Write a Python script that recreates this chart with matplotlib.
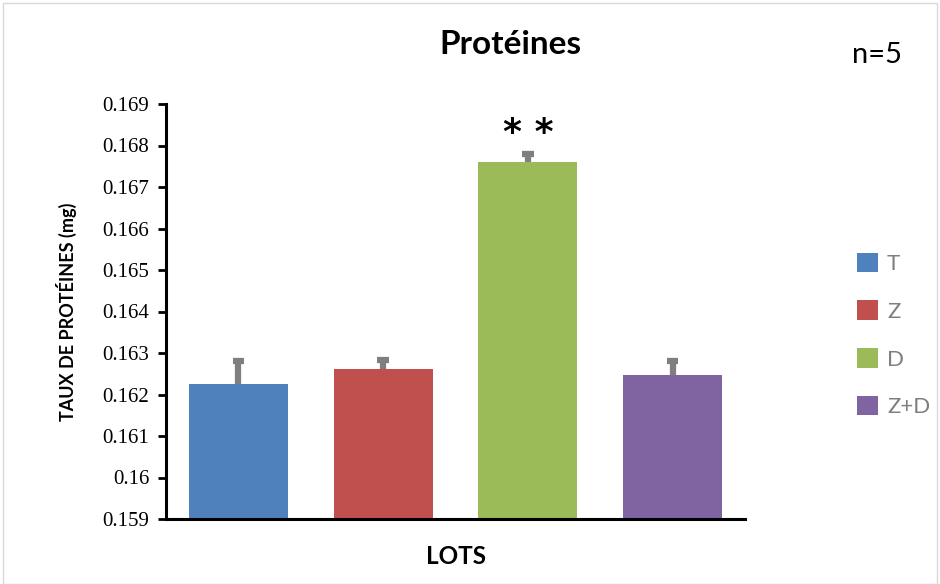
import matplotlib
matplotlib.use('Agg')
import matplotlib.pyplot as plt
from matplotlib.patches import Rectangle

# data
lots = ['T', 'Z', 'D', 'Z+D']
proteines = [0.16226, 0.16261, 0.16761, 0.16248]
erreurs = [0.00055, 0.00022, 0.00019, 0.00033]
couleurs = ['#4F81BD', '#C0504D', '#9BBB59', '#8064A2']
yticks = [0.159, 0.16, 0.161, 0.162, 0.163, 0.164, 0.165, 0.166, 0.167, 0.168, 0.169]
ytick_labels = ['0.159', '0.16', '0.161', '0.162', '0.163', '0.164', '0.165', '0.166', '0.167', '0.168', '0.169']

fig = plt.figure(figsize=(9.4, 5.84), dpi=100)
W, H = 940, 584
ax = fig.add_axes([166 / W, 1 - 519 / H, (745 - 166) / W, (519 - 104) / H])

for i, (lot, val, err, col) in enumerate(zip(lots, proteines, erreurs, couleurs)):
    ax.bar(i, val - 0.159, bottom=0.159, width=0.683, color=col, label=lot, zorder=2)
    # upper error bar only (stem + cap), drawn behind the bar
    ax.vlines(i, val - err, val + err, color='#7F7F7F', linewidth=4.5, zorder=1)
    ax.hlines(val + err, i - 0.04, i + 0.04, color='#7F7F7F', linewidth=4.5, zorder=1)

ax.text(2, 0.1679, '* *', ha='center', va='bottom', fontsize=26, fontweight='bold',
        family='DejaVu Sans')

ax.set_xlim(-0.5, 3.5)
ax.set_ylim(0.159, 0.169)
ax.set_yticks(yticks)
ax.set_yticklabels(ytick_labels, family='Liberation Serif', fontsize=15)
ax.set_xticks([])
for s in ['top', 'right']:
    ax.spines[s].set_visible(False)
for s in ['left', 'bottom']:
    ax.spines[s].set_linewidth(2.2)
    ax.spines[s].set_color('black')
ax.tick_params(axis='y', direction='out', length=6, width=2, pad=6)

ax.set_ylabel('TAUX DE PROTÉINES (mg)', family='Lato', fontweight='bold', fontsize=13, labelpad=18)
fig.text(456 / W, 1 - 556 / H, 'LOTS', family='Lato', fontweight='bold', fontsize=17.5,
         ha='center', va='center')
fig.text(510 / W, 1 - 45 / H, 'Protéines', family='Lato', fontweight='bold', fontsize=24,
         ha='center', va='center')
fig.text(877 / W, 1 - 55 / H, 'n=5', family='Lato', fontsize=21, ha='center', va='center')

leg = fig.legend(loc='center left', bbox_to_anchor=(837 / W, 1 - 335 / H), frameon=False,
                 handlelength=0.95, handleheight=0.95, handletextpad=0.4,
                 labelspacing=1.2, prop={'family': 'Lato', 'size': 16})
for t in leg.get_texts():
    t.set_color('#7F7F7F')

fig.patches.append(Rectangle((3 / W, 0), 1 - 6 / W, 1 - 3 / H, transform=fig.transFigure,
                             fill=False, edgecolor='#D9D9D9', linewidth=1))

fig.savefig('out.png', dpi=100)
